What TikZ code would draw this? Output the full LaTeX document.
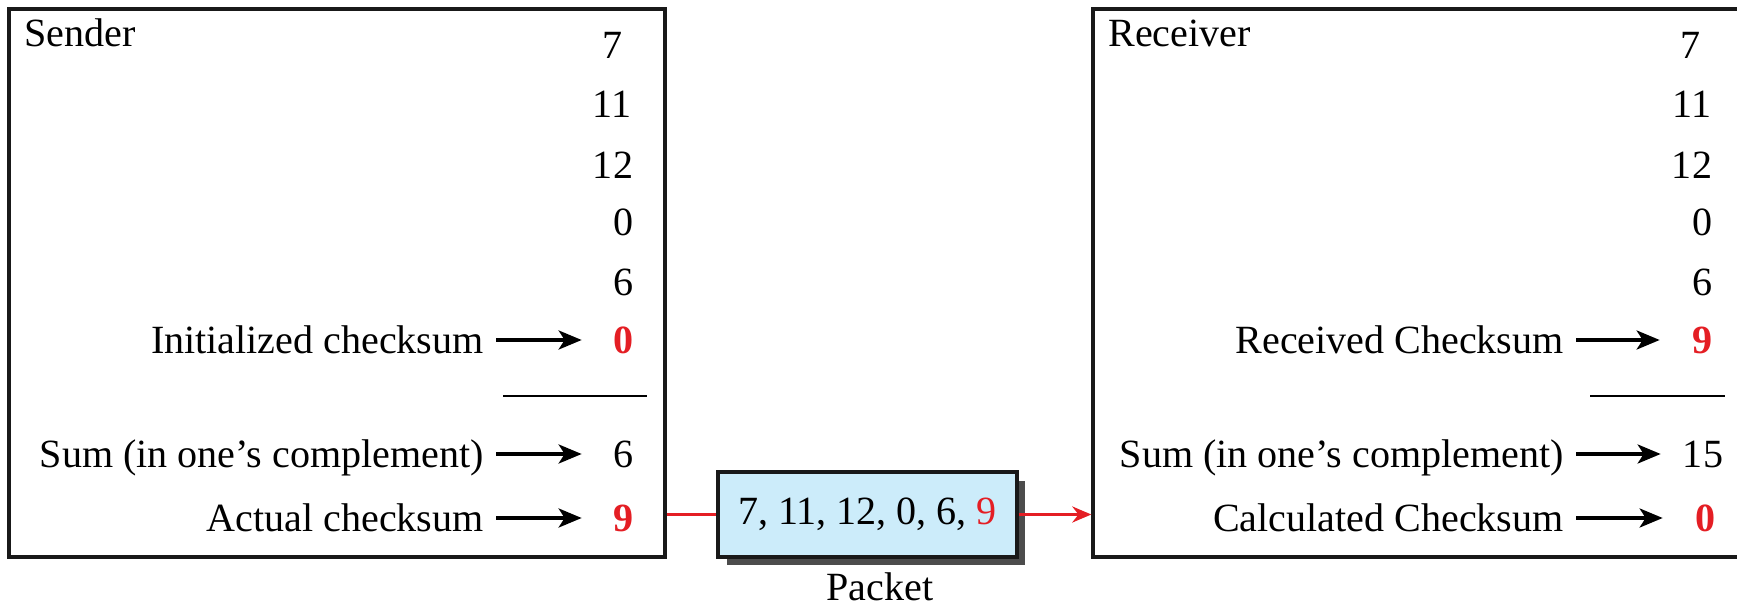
\documentclass[tikz,border=0pt]{standalone}
\usepackage{fontspec}
\setmainfont{Liberation Serif}
\usetikzlibrary{arrows.meta,shadows}
\definecolor{sumred}{RGB}{228,30,36}
\definecolor{pktblue}{RGB}{204,236,250}
\tikzset{
  frame/.style={draw=black!90, line width=2pt, inner sep=0pt},
  txt/.style={inner sep=0pt, font=\fontsize{22.8}{27}\selectfont, text height=0.54cm, text depth=0pt},
  lab/.style={txt, anchor=east},
  num/.style={txt},
  arrnum/.style={txt, minimum width=1.68cm},
  chk/.style={text=sumred, font=\fontsize{22.8}{27}\selectfont\bfseries},
  sumline/.style={line width=1.3pt},
  arr/.style={line width=2pt, -{Stealth[length=0.46cm,width=0.38cm,inset=0.12cm]}, shorten <=0.24cm},
  link/.style={draw=sumred, line width=2pt}
}
\begin{document}
\begin{tikzpicture}[x=0.02cm, y=-0.02cm]
\useasboundingbox (0,0) rectangle (1737,607);
\clip (0,0) rectangle (1737,607);

% the two ends
\node[frame, minimum width=13.12cm, minimum height=10.96cm] (sender) at (337,283) {};
\node[frame, minimum width=13.74cm, minimum height=10.96cm] (receiver) at (1436.5,283) {};
\node[txt, anchor=west] (sname) at (24,33) {Sender};
\node[txt, anchor=west] (rname) at (1108,33) {Receiver};

% data words
\foreach \v/\x/\y [count=\i] in {7/613/45, 11/612/104, 12/613/165, 0/624/222, 6/624/282}
    \node[num] (s\i) at (\x,\y) {\v};
\foreach \v/\x/\y [count=\i] in {7/1690/45, 11/1692/104, 12/1692/165, 0/1702/222, 6/1702/282}
    \node[num] (r\i) at (\x,\y) {\v};

% sender side
\node[arrnum, chk] (s6) at (624,340) {0};
\node[arrnum] (s7) at (624,454) {6};
\node[arrnum, chk] (s8) at (624,518) {9};
\node[lab] (sl6) at (484,340) {Initialized checksum};
\node[lab] (sl7) at (484,454) {Sum (in one’s complement)};
\node[lab] (sl8) at (484,518) {Actual checksum};
\foreach \i in {6,7,8}
    \draw[arr] (sl\i) -- (s\i);
\draw[sumline] (503,396) -- (647,396);

% receiver side
\node[arrnum, chk] (r6) at (1702,340) {9};
\node[arrnum] (r7) at (1703,454) {15};
\node[arrnum, chk] (r8) at (1705,518) {0};
\node[lab] (rl6) at (1564,340) {Received Checksum};
\node[lab] (rl7) at (1564,454) {Sum (in one’s complement)};
\node[lab] (rl8) at (1564,518) {Calculated Checksum};
\foreach \i in {6,7,8}
    \draw[arr] (rl\i) -- (r\i);
\draw[sumline] (1590,396) -- (1725,396);

% packet on the way
\node[frame, fill=pktblue, minimum width=5.98cm, minimum height=1.7cm,
      font=\fontsize{22.8}{27}\selectfont,
      drop shadow={shadow xshift=0.17cm, shadow yshift=-0.17cm, fill=black!70, opacity=1}]
      (packet) at (867.5,514.5) {7, 11, 12, 0, 6, \textcolor{sumred}{9}};
\node[txt] (plabel) at (880,587) {Packet};
\draw[link] (sender.east |- packet.west) -- (packet.west);
\draw[link, -{Stealth[length=0.38cm,width=0.32cm]}] (packet.east) -- (packet.east -| receiver.west);

\end{tikzpicture}
\end{document}
